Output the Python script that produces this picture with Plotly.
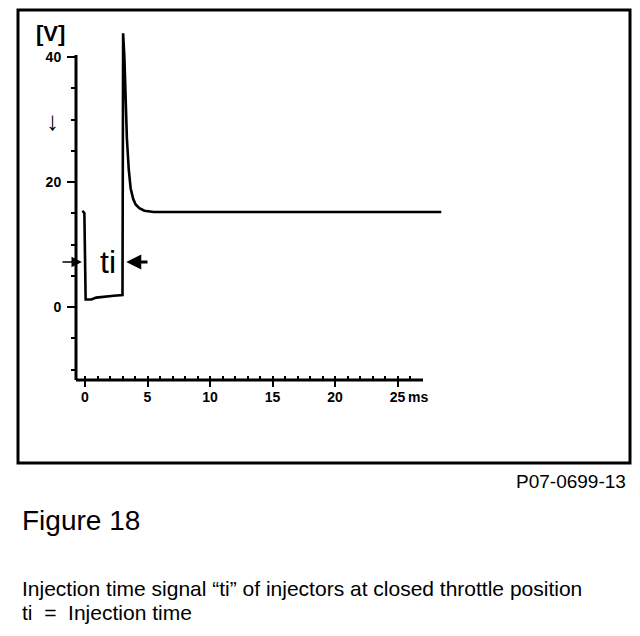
import plotly.graph_objects as go

# ---------------- data ----------------
time_ms = [-0.2, -0.05, 0.05, 0.5, 0.9, 1.6, 2.3, 3.0, 3.05, 3.15, 3.25, 3.35, 3.5,
           3.65, 3.85, 4.05, 4.35, 4.75, 5.5, 8.0, 12.0, 16.0, 20.0, 24.0, 28.5]
voltage_v = [15.4, 15.0, 1.2, 1.2, 1.5, 1.7, 1.8, 1.9, 43.8, 40.0, 33.0, 27.0, 22.0,
             19.0, 17.3, 16.4, 15.8, 15.4, 15.2, 15.2, 15.1, 15.2, 15.2, 15.2, 15.2]

x_tick_vals = [0, 5, 10, 15, 20, 25]
x_tick_text = ["0", "5", "10", "15", "20", "25"]
x_minor_vals = list(range(0, 27))
y_tick_vals = [0, 20, 40]
y_tick_text = ["0", "20", "40"]
y_minor_vals = [-10, -5, 5, 10, 15, 25, 30, 35]

ti_level_v = 7.2          # height of the ti arrows
ti_start_ms = -0.25       # left arrow head
ti_end_ms = 3.3           # right arrow head

# ---------------- geometry of the page ----------------
W, H = 640, 636
OFF_X, OFF_Y = 8, 8               # page offset of the plot div (body margin)
PX_T0, PX_PER_MS = 85.0, 12.5     # page pixel of t = 0 and pixels per ms
PX_V0, PX_PER_V = 307.0, 6.25     # page pixel of 0 V and pixels per volt


def t_at(px):
    return (px - PX_T0) / PX_PER_MS


def v_at(py):
    return (PX_V0 - py) / PX_PER_V


def pxp(x):   # page x pixel -> paper
    return (x - OFF_X) / W


def pyp(y):   # page y pixel -> paper
    return 1 - (y - OFF_Y) / H


AX_L, AX_R, AX_T, AX_B = 76, 423, 55, 380

FONT = "Liberation Sans, Arial, sans-serif"
tick_font = dict(family=FONT, size=14, color="black", weight="bold")

fig = go.Figure()
fig.add_trace(go.Scatter(
    x=time_ms, y=voltage_v, mode="lines",
    line=dict(color="black", width=2.6),
    hoverinfo="skip", showlegend=False,
))

fig.update_layout(
    width=W, height=H,
    margin=dict(l=0, r=0, t=0, b=0, autoexpand=False),
    paper_bgcolor="white",
    plot_bgcolor="white",
    showlegend=False,
    xaxis=dict(
        domain=[0, 1], range=[t_at(OFF_X), t_at(OFF_X + W)],
        anchor="free", position=pyp(AX_B),
        showline=False, showgrid=False, zeroline=False, fixedrange=True,
        tickmode="array", tickvals=x_tick_vals, ticktext=x_tick_text,
        ticks="outside", ticklen=6, tickwidth=2, tickcolor="black",
        tickfont=tick_font, ticklabelstandoff=-2,
        minor=dict(tickmode="array", tickvals=x_minor_vals, ticks="inside",
                   ticklen=4, tickwidth=2, tickcolor="black", showgrid=False),
    ),
    yaxis=dict(
        domain=[0, 1], range=[v_at(OFF_Y + H), v_at(OFF_Y)],
        anchor="free", position=pxp(AX_L),
        showline=False, showgrid=False, zeroline=False, fixedrange=True,
        tickmode="array", tickvals=y_tick_vals, ticktext=y_tick_text,
        ticks="outside", ticklen=9, tickwidth=2, tickcolor="black",
        tickfont=tick_font, ticklabelstandoff=3,
        minor=dict(tickmode="array", tickvals=y_minor_vals, ticks="outside",
                   ticklen=5, tickwidth=2, tickcolor="black", showgrid=False),
    ),
)

# axis lines (span of the drawn axes only)
fig.add_shape(type="line", xref="x", yref="y",
              x0=t_at(AX_L), x1=t_at(AX_R), y0=v_at(AX_B), y1=v_at(AX_B),
              line=dict(color="black", width=3))
fig.add_shape(type="line", xref="x", yref="y",
              x0=t_at(AX_L), x1=t_at(AX_L), y0=v_at(AX_B), y1=v_at(AX_T),
              line=dict(color="black", width=3))

# frame around the figure
fig.add_shape(type="rect", xref="paper", yref="paper",
              x0=pxp(18), x1=pxp(630), y0=pyp(463), y1=pyp(10),
              line=dict(color="black", width=3), fillcolor="rgba(0,0,0,0)")

# ti arrows
fig.add_annotation(x=ti_start_ms, y=ti_level_v, ax=t_at(61), ay=ti_level_v,
                   xref="x", yref="y", axref="x", ayref="y", text="",
                   showarrow=True, arrowhead=2, arrowsize=1.3, arrowwidth=1.6,
                   arrowcolor="black")
fig.add_annotation(x=ti_end_ms, y=ti_level_v, ax=t_at(149), ay=ti_level_v,
                   xref="x", yref="y", axref="x", ayref="y", text="",
                   showarrow=True, arrowhead=2, arrowsize=1.0, arrowwidth=3,
                   arrowcolor="black")
fig.add_annotation(x=t_at(108), y=ti_level_v, xref="x", yref="y", text="ti",
                   showarrow=False, xanchor="center", yanchor="middle",
                   font=dict(family=FONT, size=32, color="black"))


def label(x, y, text, size, xanchor="center", bold=False):
    fig.add_annotation(x=pxp(x), y=pyp(y), xref="paper", yref="paper", text=text,
                       showarrow=False, xanchor=xanchor, yanchor="middle",
                       font=dict(family=FONT, size=size, color="black",
                                 weight="bold" if bold else "normal"))


# axis unit labels
label(50, 34, "[V]", 22, bold=True)
label(52, 121, "↓", 26, bold=True)
label(406, 397, "ms", 14, xanchor="left", bold=True)

# captions
label(628, 481, "P07-0699-13", 19, xanchor="right")
label(20, 520, "Figure 18", 28, xanchor="left")
label(20, 588, "Injection time signal “ti” of injectors at closed throttle position",
      21, xanchor="left")
label(20, 612, "ti  =  Injection time", 21, xanchor="left")

fig.write_html("out.html")
